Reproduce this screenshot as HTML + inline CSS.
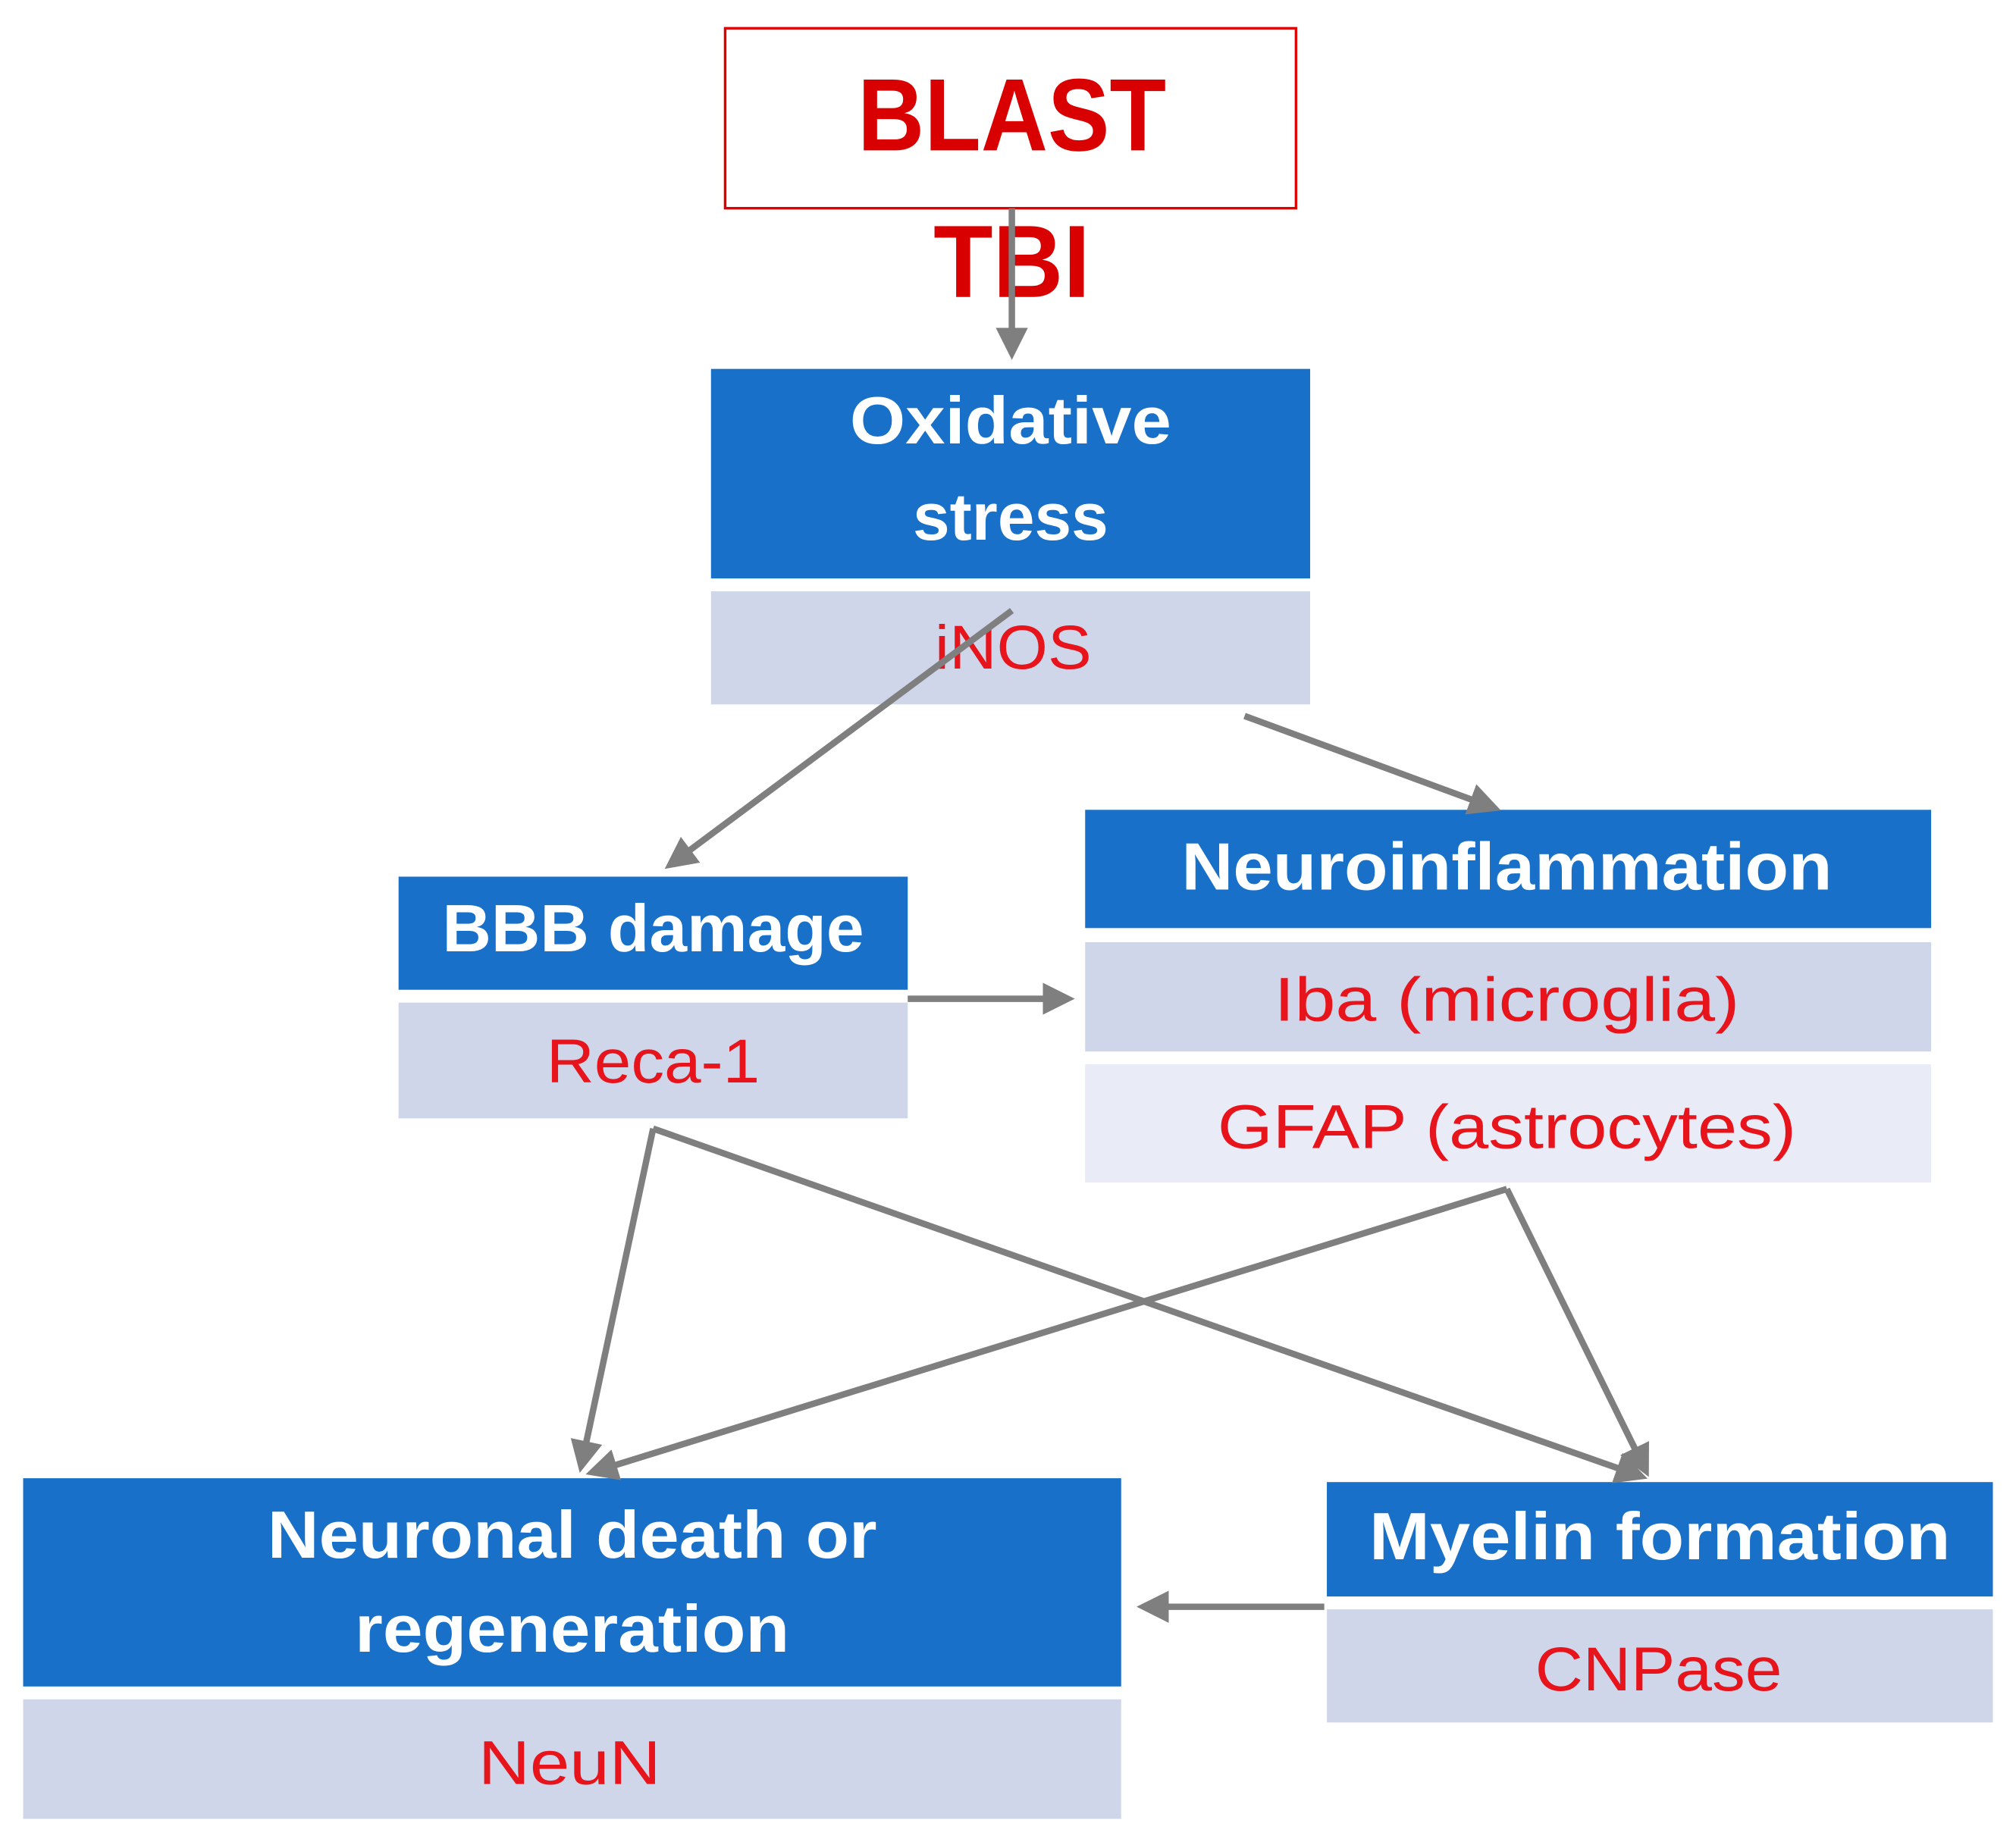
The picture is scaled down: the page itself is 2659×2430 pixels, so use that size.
<!DOCTYPE html>
<html><head><meta charset="utf-8"><style>
html,body{margin:0;padding:0;background:#fff;}
svg{display:block;}
text{font-family:"Liberation Sans",sans-serif;}
</style></head><body>
<svg width="2659" height="2430" viewBox="0 0 1568 1433" preserveAspectRatio="none" xmlns="http://www.w3.org/2000/svg">
<defs>
<marker id="a" markerWidth="5" markerHeight="5" refX="3" refY="2.5" orient="auto" markerUnits="strokeWidth">
<path d="M0,0 L5,2.5 L0,5 z" fill="#7f7f7f"/>
</marker>
</defs>
<rect width="1568" height="1433" fill="#fff"/>
<rect x="564" y="22" width="444" height="140" fill="#fff" stroke="#e00000" stroke-width="2"/>
<text x="787" y="117" text-anchor="middle" font-size="80" font-weight="bold" fill="#d80000" textLength="240" lengthAdjust="spacingAndGlyphs">BLAST</text>
<text x="787" y="231" text-anchor="middle" font-size="80" font-weight="bold" fill="#d80000" textLength="122" lengthAdjust="spacingAndGlyphs">TBI</text>
<g font-weight="bold" fill="#fff" font-size="52">
<rect x="553" y="287" width="466" height="163" fill="#1870c8"/>
<text x="786" y="345" text-anchor="middle" textLength="250" lengthAdjust="spacingAndGlyphs">Oxidative</text>
<text x="786" y="420" text-anchor="middle" textLength="152" lengthAdjust="spacingAndGlyphs">stress</text>
<rect x="310" y="682" width="396" height="88" fill="#1870c8"/>
<text x="508" y="740" text-anchor="middle" textLength="328" lengthAdjust="spacingAndGlyphs">BBB damage</text>
<rect x="844" y="630" width="658" height="92" fill="#1870c8"/>
<text x="1172" y="692" text-anchor="middle" textLength="506" lengthAdjust="spacingAndGlyphs">Neuroinflammation</text>
<rect x="18" y="1150" width="854" height="162" fill="#1870c8"/>
<text x="445" y="1212" text-anchor="middle" textLength="474" lengthAdjust="spacingAndGlyphs">Neuronal death or</text>
<text x="445" y="1285" text-anchor="middle" textLength="338" lengthAdjust="spacingAndGlyphs">regeneration</text>
<rect x="1032" y="1153" width="518" height="89" fill="#1870c8"/>
<text x="1291" y="1213" text-anchor="middle" textLength="452" lengthAdjust="spacingAndGlyphs">Myelin formation</text>
</g>
<g font-size="48" fill="#e8141c">
<rect x="553" y="460" width="466" height="88" fill="#cfd6ea"/>
<text x="788" y="520" text-anchor="middle" textLength="122" lengthAdjust="spacingAndGlyphs">iNOS</text>
<rect x="310" y="780" width="396" height="90" fill="#cfd6ea"/>
<text x="508" y="842" text-anchor="middle" textLength="166" lengthAdjust="spacingAndGlyphs">Reca-1</text>
<rect x="844" y="733" width="658" height="85" fill="#cfd6ea"/>
<text x="1172" y="794" text-anchor="middle" textLength="362" lengthAdjust="spacingAndGlyphs">Iba (microglia)</text>
<rect x="844" y="828" width="658" height="92" fill="#e9ecf6"/>
<text x="1172" y="893" text-anchor="middle" textLength="450" lengthAdjust="spacingAndGlyphs">GFAP (astrocytes)</text>
<rect x="18" y="1322" width="854" height="93" fill="#cfd6ea"/>
<text x="443" y="1388" text-anchor="middle" textLength="142" lengthAdjust="spacingAndGlyphs">NeuN</text>
<rect x="1032" y="1252" width="518" height="88" fill="#cfd6ea"/>
<text x="1290" y="1315" text-anchor="middle" textLength="192" lengthAdjust="spacingAndGlyphs">CNPase</text>
</g>
<g stroke="#7f7f7f" stroke-width="5" fill="none" marker-end="url(#a)">
<line x1="787" y1="162" x2="787" y2="270"/>
<line x1="787" y1="475" x2="525" y2="670"/>
<line x1="968" y1="557" x2="1158" y2="627"/>
<line x1="706" y1="777" x2="826" y2="777"/>
<line x1="508" y1="878" x2="453" y2="1136"/>
<line x1="508" y1="878" x2="1272" y2="1147"/>
<line x1="1172" y1="925" x2="465" y2="1144"/>
<line x1="1172" y1="925" x2="1278" y2="1140"/>
<line x1="1030" y1="1250" x2="894" y2="1250"/>
</g>
</svg>
</body></html>
